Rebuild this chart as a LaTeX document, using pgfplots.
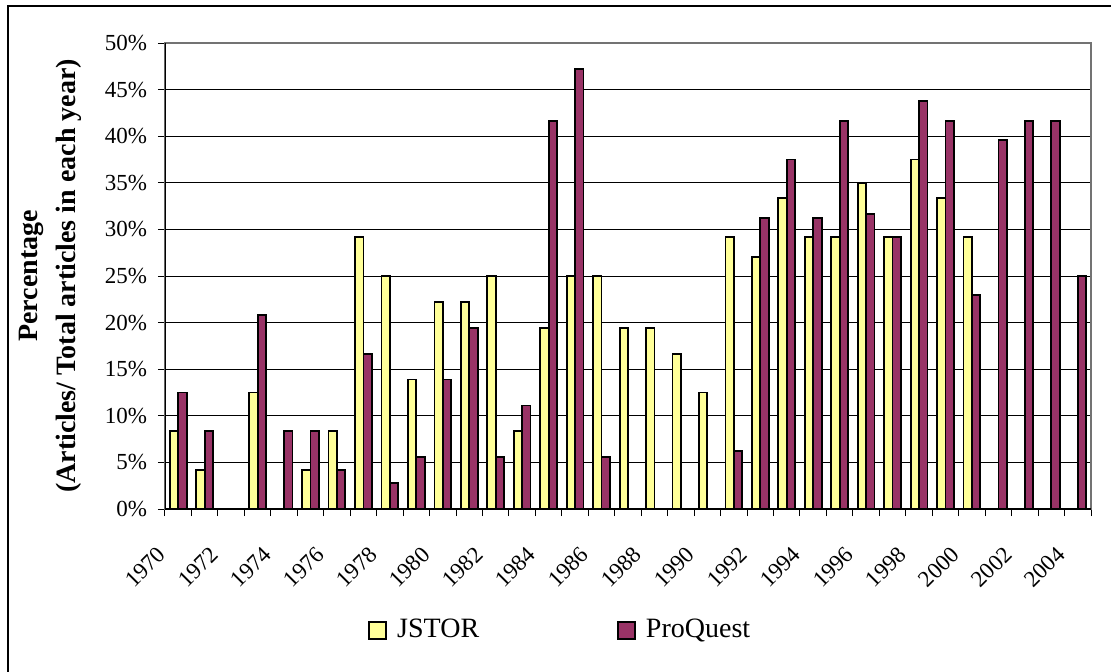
\documentclass[border=0pt]{standalone}
\usepackage{pgfplots}
\pgfplotsset{compat=1.18}
\usepackage{pgfplotstable}
\usepackage{fontspec}
\setmainfont{Liberation Serif}

\definecolor{jstor}{HTML}{FFFF99}
\definecolor{proq}{HTML}{993366}

% x = year - 1970
\pgfplotstableread{
x y
0 8.33
1 4.17
3 12.5
5 4.17
6 8.33
7 29.17
8 25
9 13.89
10 22.22
11 22.22
12 25
13 8.33
14 19.44
15 25
16 25
17 19.44
18 19.44
19 16.67
20 12.5
21 29.17
22 27.08
23 33.33
24 29.17
25 29.17
26 35
27 29.17
28 37.5
29 33.33
30 29.17
}\jstordata

\pgfplotstableread{
x y
0 12.5
1 8.33
3 20.83
4 8.33
5 8.33
6 4.17
7 16.67
8 2.78
9 5.56
10 13.89
11 19.44
12 5.56
13 11.11
14 41.67
15 47.22
16 5.56
21 6.25
22 31.25
23 37.5
24 31.25
25 41.67
26 31.67
27 29.17
28 43.75
29 41.67
30 22.92
31 39.58
32 41.67
33 41.67
34 25
}\proqdata

\begin{document}
\begin{tikzpicture}
\begin{axis}[
    at={(0,0)}, anchor=south west,
    scale only axis,
    width=463pt, height=233pt,
    ybar=0pt, bar width=4.2pt,
    xmin=-0.5, xmax=34.5,
    ymin=0, ymax=50,
    xtick={0,2,...,34},
    xticklabels={1970,1972,1974,1976,1978,1980,1982,1984,1986,1988,1990,1992,1994,1996,1998,2000,2002,2004},
    minor xtick={-0.5,0.5,...,34.5},
    ytick={0,5,...,50},
    yticklabel={\pgfmathprintnumber{\tick}\%},
    /pgf/number format/assume math mode=true,
    tick align=outside,
    major tick length=3.5pt,
    minor tick length=3.5pt,
    major x tick style={draw=none},
    minor x tick style={draw=black, line width=0.5pt},
    major y tick style={draw=black, line width=0.5pt},
    xtick pos=bottom, ytick pos=left,
    ymajorgrids=true,
    major grid style={black, line width=0.5pt},
    axis line style={draw=gray!90!black, line width=0.6pt},
    tick label style={font=\fontsize{11.5}{13}\selectfont},
    xticklabel style={rotate=45, anchor=east, xshift=-4.2pt, yshift=4.2pt},
    xticklabel shift=15pt,
    yticklabel style={xshift=-2pt},
    ylabel={Percentage\\(Articles/ Total articles in each year)},
    ylabel style={align=center, font=\fontsize{14}{19}\selectfont\bfseries,
        at={(axis description cs:-0.124,0.5)}, anchor=center},
    legend columns=2,
    legend style={draw=none, fill=none, font=\fontsize{14}{16}\selectfont,
        at={(axis description cs:0.428,-0.26)}, anchor=center,
        /tikz/every odd column/.append style={column sep=3pt},
        /tikz/every even column/.append style={column sep=67pt}},
    legend image code/.code={\draw[#1, line width=0.9pt] (0pt,-4.25pt) rectangle (8.5pt,4.25pt);},
]
\addplot[fill=jstor, draw=black, line width=0.9pt] table[x=x, y=y] {\jstordata};
\addplot[fill=proq, draw=black, line width=0.9pt] table[x=x, y=y] {\proqdata};
\legend{JSTOR, ProQuest}
\draw[black, line width=0.6pt] (rel axis cs:0,1) -- (rel axis cs:0,0) -- (rel axis cs:1,0);
\end{axis}
% outer chart frame
\draw[black, line width=1pt] (-78.5pt,-95pt) rectangle (485pt,251.5pt);
\pgfresetboundingbox
\path (-82.5pt,-81pt) rectangle (473pt,254.5pt);
\end{tikzpicture}
\end{document}
